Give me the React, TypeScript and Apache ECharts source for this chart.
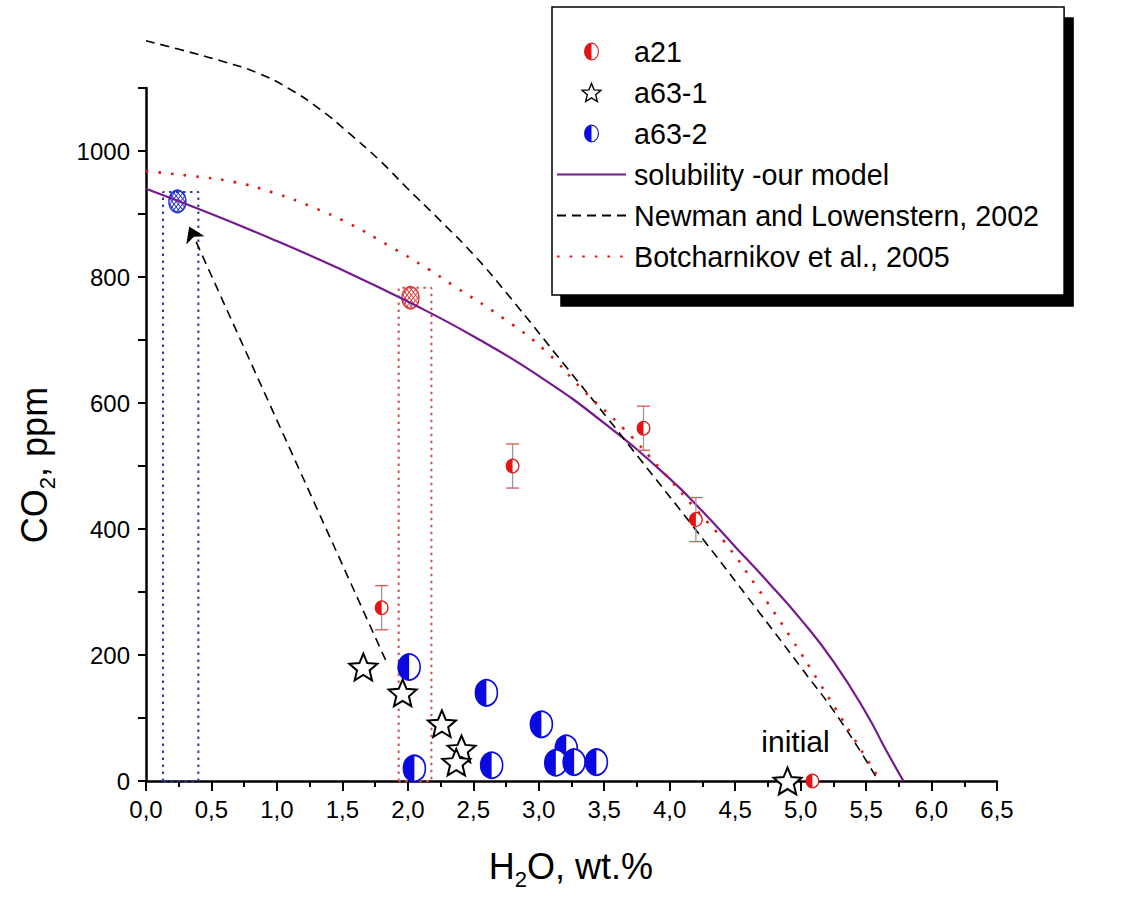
import React, { useEffect, useRef } from "react";
import * as echarts from "echarts";

// Melt inclusion data: [H2O wt.%, CO2 ppm, error ppm]
const a21 = [
  [1.8, 275, 35],
  [2.8, 500, 35],
  [3.8, 560, 35],
  [4.2, 415, 35],
  [5.09, 0, 0],
];
// Star symbols; the initial composition is kept separately for its label
const a63_1 = [
  [1.66, 181],
  [1.96, 140],
  [2.26, 91],
  [2.41, 51],
  [2.37, 30],
];
const initialPoint = [4.9, 0];
const a63_2 = [
  [2.01, 181],
  [2.6, 140],
  [3.02, 90],
  [3.21, 52],
  [3.13, 29],
  [3.27, 30],
  [3.44, 30],
  [2.64, 25],
  [2.05, 20],
];

// Saturation curves
const solubilityModel = [
  [0, 940], [0.5, 900], [1.0, 857], [1.5, 811], [2.0, 761], [2.5, 706],
  [3.0, 643], [3.5, 568], [4.0, 480], [4.25, 428], [4.5, 372], [4.75, 316],
  [5.0, 257], [5.25, 190], [5.5, 108], [5.65, 50], [5.785, 0],
];
const newman2002 = [
  [0, 1175], [0.26, 1161], [0.59, 1142], [0.85, 1124], [1.1, 1098], [1.33, 1066],
  [1.53, 1032], [1.79, 984], [1.99, 942], [2.25, 889], [2.5, 836], [2.76, 773],
  [3.21, 657], [3.54, 572], [3.7, 530], [4.16, 409], [4.69, 266], [5.0, 181],
  [5.3, 97], [5.595, 0],
];
const botcharnikov2005 = [
  [0, 968], [0.36, 960], [0.67, 951], [0.97, 934], [1.27, 911], [1.56, 884],
  [1.86, 849], [2.16, 812], [2.35, 786], [2.74, 733], [3.05, 683], [3.34, 620],
  [3.65, 559], [3.94, 493], [4.23, 424], [4.41, 382], [4.665, 308], [4.93, 226],
  [5.14, 157], [5.4, 70], [5.61, 0],
];

// Equilibrium points on the model curve
const hatchBlue = [[0.24, 920]];
const hatchRed = [[2.02, 767]];

// Dotted frames marking the H2O ranges
const blueFrame = [[0.13, 0], [0.13, 935], [0.4, 935], [0.4, 0], [0.13, 0]];
const redFrame = [[1.93, 0], [1.93, 783], [2.18, 783], [2.18, 0], [1.93, 0]];

// Degassing trend arrow
const arrowPath = [[1.83, 192], [0.33, 880]];

const xTicks = { min: 0, max: 6.5, step: 0.5 };
const yTicks = { min: 0, max: 1100, step: 100 };

const RED = "#e31414";
const BLUE = "#0a0ae0";
const PURPLE = "#74198f";
const FONT = "'Liberation Sans', Arial, sans-serif";

const halfIcon =
  "path://M0,-12A10,12,0,1,1,0,12A10,12,0,1,1,0,-12ZM0,-10.5A8.5,10.5,0,1,0,0,10.5A8.5,10.5,0,1,0,0,-10.5ZM0,12A10,12,0,0,1,0,-12Z";
const starPath =
  "path://M0,-10L2.645,-3.641L9.511,-3.09L4.28,1.391L5.878,8.09L0,4.5L-5.878,8.09L-4.28,1.391L-9.511,-3.09L-2.645,-3.641Z";

const hiddenSymbol = { color: "rgba(0,0,0,0)", borderWidth: 0, opacity: 0 };

function hatchChildren(r: number, color: string) {
  const kids: any[] = [];
  const s2 = Math.SQRT1_2;
  for (let p = -r + 1.6; p < r; p += 3) {
    const h = Math.sqrt(r * r - p * p);
    const c1 = [p * s2, -p * s2];
    kids.push({
      type: "line",
      shape: { x1: c1[0] - h * s2, y1: c1[1] - h * s2, x2: c1[0] + h * s2, y2: c1[1] + h * s2 },
      style: { stroke: color, lineWidth: 0.8 },
    });
    const c2 = [p * s2, p * s2];
    kids.push({
      type: "line",
      shape: { x1: c2[0] - h * s2, y1: c2[1] + h * s2, x2: c2[0] + h * s2, y2: c2[1] - h * s2 },
      style: { stroke: color, lineWidth: 0.8 },
    });
  }
  kids.push({
    type: "circle",
    shape: { cx: 0, cy: 0, r },
    style: { fill: "none", stroke: color, lineWidth: 1.4 },
  });
  return kids;
}

function halfMarker(c: number[], rx: number, ry: number, color: string, lw: number) {
  return {
    type: "group",
    x: c[0],
    y: c[1],
    scaleY: ry / rx,
    children: [
      { type: "circle", shape: { cx: 0, cy: 0, r: rx }, style: { fill: "#fff", stroke: color, lineWidth: lw } },
      {
        type: "sector",
        shape: { cx: 0, cy: 0, r0: 0, r: rx, startAngle: Math.PI / 2, endAngle: (Math.PI * 3) / 2, clockwise: true },
        style: { fill: color },
      },
    ],
  };
}

// Axis title built from pieces so the "2" sits as a subscript.
// Widths follow Arial/Liberation Sans metrics (em fractions).
function subscriptTitle(
  parts: { text: string; em: number; sub?: boolean }[],
  size: number,
  subSize: number,
  subDrop: number
) {
  const widths = parts.map((p) => p.em * (p.sub ? subSize : size));
  const total = widths.reduce((a, b) => a + b, 0);
  let x = -total / 2;
  return parts.map((p, i) => {
    const el = {
      type: "text",
      x,
      y: p.sub ? subDrop : 0,
      style: {
        text: p.text,
        fontSize: p.sub ? subSize : size,
        fontFamily: FONT,
        fill: "#000",
        align: "left",
        verticalAlign: "middle",
      },
    };
    x += widths[i];
    return el;
  });
}

const curveBase = {
  type: "line",
  symbol: "none",
  smooth: 0.5,
  clip: false,
  z: 3,
};

export default function App() {
  const ref = useRef<HTMLDivElement>(null);

  useEffect(() => {
    if (!ref.current) return;
    const chart = echarts.init(ref.current, undefined, { renderer: "svg" });

    const option: any = {
      animation: false,
      backgroundColor: "#fff",
      grid: { left: 146, top: 88, width: 851, height: 693, containLabel: false },
      legend: {
        orient: "vertical",
        left: 552,
        top: 7,
        padding: [30, 25, 24, 4],
        itemWidth: 69,
        itemHeight: 18,
        itemGap: 12,
        backgroundColor: "#fff",
        borderColor: "#000",
        borderWidth: 1.5,
        shadowColor: "#000",
        shadowBlur: 0,
        shadowOffsetX: 9,
        shadowOffsetY: 11,
        selectedMode: false,
        textStyle: {
          fontSize: 28.7,
          lineHeight: 28,
          color: "#000",
          fontFamily: FONT,
          padding: [0, 0, 0, 3],
        },
        data: [
          { name: "a21", icon: halfIcon, itemStyle: { color: RED, borderWidth: 0 } },
          { name: "a63-1", itemStyle: { color: "#fff", borderColor: "#000", borderWidth: 1.4, opacity: 1 } },
          { name: "a63-2", icon: halfIcon, itemStyle: { color: BLUE, borderWidth: 0 } },
          { name: "solubility -our model", itemStyle: hiddenSymbol },
          { name: "Newman and Lowenstern, 2002", itemStyle: hiddenSymbol },
          { name: "Botcharnikov et al., 2005", itemStyle: hiddenSymbol },
        ],
      },
      xAxis: {
        type: "value",
        min: xTicks.min,
        max: xTicks.max,
        interval: xTicks.step,
        axisLine: { onZero: false, lineStyle: { color: "#000", width: 2.5 } },
        axisTick: { length: 10, lineStyle: { color: "#000", width: 2 } },
        minorTick: { show: true, splitNumber: 2, length: 6, lineStyle: { color: "#000", width: 2 } },
        axisLabel: {
          color: "#000",
          fontSize: 24,
          fontFamily: FONT,
          margin: 16,
          formatter: (v: number) => v.toFixed(1).replace(".", ","),
        },
        splitLine: { show: false },
      },
      yAxis: {
        type: "value",
        min: yTicks.min,
        max: yTicks.max,
        interval: yTicks.step,
        axisLine: { onZero: false, lineStyle: { color: "#000", width: 2.5 } },
        axisTick: { length: 8, lineStyle: { color: "#000", width: 2 } },
        axisLabel: {
          color: "#000",
          fontSize: 24,
          fontFamily: FONT,
          margin: 16,
          formatter: (v: number) => (v % 200 === 0 && v <= 1000 ? String(v) : ""),
        },
        splitLine: { show: false },
      },
      graphic: [
        {
          type: "group",
          x: 571,
          y: 866,
          children: subscriptTitle(
            [
              { text: "H", em: 0.722 },
              { text: "2", em: 0.556, sub: true },
              { text: "O, wt.%", em: 3.501 },
            ],
            36,
            22,
            13
          ),
        },
        {
          type: "group",
          x: 34,
          y: 465,
          rotation: Math.PI / 2,
          children: subscriptTitle(
            [
              { text: "CO", em: 1.5 },
              { text: "2", em: 0.556, sub: true },
              { text: ", ppm", em: 2.501 },
            ],
            36,
            22,
            13
          ),
        },
      ],
      series: [
        {
          name: "frame-blue",
          type: "line",
          data: blueFrame,
          symbol: "none",
          silent: true,
          lineStyle: { color: "#2a3aa8", width: 2, type: [2.5, 4.5] },
          z: 1,
        },
        {
          name: "frame-red",
          type: "line",
          data: redFrame,
          symbol: "none",
          silent: true,
          lineStyle: { color: "#d45050", width: 2, type: [2.5, 4.5] },
          z: 1,
        },
        {
          name: "equilibrium",
          type: "custom",
          clip: false,
          z: 2,
          data: [...hatchBlue.map((p) => [...p, 0]), ...hatchRed.map((p) => [...p, 1])],
          renderItem: (_p: any, api: any) => {
            const c = api.coord([api.value(0), api.value(1)]);
            const color = api.value(2) === 0 ? "#1f2fd0" : "#d83a3a";
            return {
              type: "group",
              x: c[0],
              y: c[1],
              scaleY: 11 / 8.5,
              children: hatchChildren(8.5, color),
            };
          },
        },
        {
          ...curveBase,
          name: "solubility -our model",
          data: solubilityModel,
          lineStyle: { color: PURPLE, width: 2.2 },
        },
        {
          ...curveBase,
          name: "Newman and Lowenstern, 2002",
          data: newman2002,
          lineStyle: { color: "#000", width: 1.6, type: [9, 6] },
        },
        {
          ...curveBase,
          name: "Botcharnikov et al., 2005",
          data: botcharnikov2005,
          lineStyle: { color: "#e01818", width: 2.6, type: [2.6, 10] },
        },
        {
          name: "trend",
          type: "lines",
          coordinateSystem: "cartesian2d",
          polyline: false,
          silent: true,
          symbol: ["none", "arrow"],
          symbolSize: [9, 15],
          lineStyle: { color: "#000", width: 1.6, type: [9, 6], opacity: 1 },
          data: [{ coords: arrowPath }],
          z: 3,
        },
        {
          name: "a21",
          type: "custom",
          clip: false,
          z: 4,
          itemStyle: { color: RED },
          data: a21,
          renderItem: (_p: any, api: any) => {
            const x = api.value(0);
            const y = api.value(1);
            const e = api.value(2);
            const c = api.coord([x, y]);
            const children: any[] = [];
            if (e > 0) {
              const t = api.coord([x, y + e]);
              const b = api.coord([x, y - e]);
              children.push({
                type: "line",
                shape: { x1: c[0], y1: t[1], x2: c[0], y2: b[1] },
                style: { stroke: "#9a9a9a", lineWidth: 1.3 },
              });
              [t[1], b[1]].forEach((yy) =>
                children.push({
                  type: "line",
                  shape: { x1: c[0] - 6.5, y1: yy, x2: c[0] + 6.5, y2: yy },
                  style: { stroke: "#e05050", lineWidth: 1.3 },
                })
              );
            }
            children.push(halfMarker(c, 6.3, 6.8, RED, 1.2));
            return { type: "group", children };
          },
        },
        {
          name: "a63-1",
          type: "scatter",
          symbol: starPath,
          symbolSize: 28,
          symbolKeepAspect: true,
          itemStyle: { color: "#fff", borderColor: "#000", borderWidth: 2, opacity: 1 },
          z: 5,
          data: [
            ...a63_1,
            {
              value: initialPoint,
              label: {
                show: true,
                formatter: "initial",
                position: "top",
                distance: 10,
                offset: [8, 0],
                fontSize: 30,
                color: "#000",
                opacity: 1,
                fontFamily: FONT,
              },
            },
          ],
        },
        {
          name: "a63-2",
          type: "custom",
          clip: false,
          z: 6,
          itemStyle: { color: BLUE },
          data: a63_2,
          renderItem: (_p: any, api: any) => {
            const c = api.coord([api.value(0), api.value(1)]);
            return halfMarker(c, 11, 13, BLUE, 1.6);
          },
        },
      ],
    };

    chart.setOption(option);
    return () => chart.dispose();
  }, []);

  return (
    <div
      ref={ref}
      style={{ position: "absolute", left: 0, top: 0, width: 1139, height: 900 }}
    />
  );
}
